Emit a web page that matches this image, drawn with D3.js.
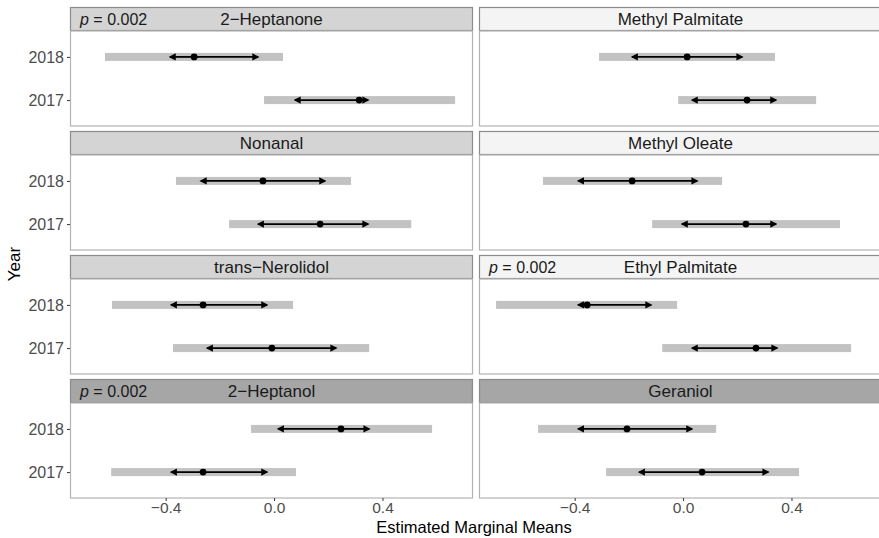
<!DOCTYPE html>
<html>
<head>
<meta charset="utf-8">
<script src="https://cdn.jsdelivr.net/npm/d3@7"></script>
<style>
  body { margin: 0; background: #fff; }
  svg { display: block; font-family: "Liberation Sans", Arial, sans-serif; }
</style>
</head>
<body>
<script>
// panel data: order = reading order (left col then right col per row)
const compounds = ["2\u2212Heptanone", "Methyl Palmitate", "Nonanal", "Methyl Oleate",
                   "trans\u2212Nerolidol", "Ethyl Palmitate", "2\u2212Heptanol", "Geraniol"];
const pLabels = ["0.002", "", "", "", "", "0.002", "0.002", ""];
const stripShade = ["mid", "light", "mid", "light", "mid", "light", "dark", "dark"];
const years = ["2018", "2017"];

// emmean, gray CI bar, comparison arrows  [2018, 2017]
const emmean   = [[-0.295, 0.314], [0.015, 0.236], [-0.041, 0.170], [-0.188, 0.232],
                  [-0.262, -0.008], [-0.354, 0.269], [0.247, -0.262], [-0.207, 0.070]];
const ciLow    = [[-0.624, -0.037], [-0.310, -0.018], [-0.362, -0.166], [-0.517, -0.114],
                  [-0.598, -0.373], [-0.690, -0.077], [-0.085, -0.601], [-0.535, -0.284]];
const ciHigh   = [[0.033, 0.668], [0.339, 0.491], [0.284, 0.506], [0.144, 0.579],
                  [0.070, 0.351], [-0.022, 0.620], [0.583, 0.081], [0.122, 0.428]];
const arrowLow = [[-0.384, 0.077], [-0.188, 0.033], [-0.270, -0.059], [-0.387, -0.004],
                  [-0.380, -0.247], [-0.387, 0.033], [0.015, -0.380], [-0.387, -0.162]];
const arrowHigh= [[-0.059, 0.347], [0.218, 0.343], [0.188, 0.347], [0.052, 0.343],
                  [-0.026, 0.229], [-0.118, 0.347], [0.351, -0.026], [0.033, 0.314]];
const xTicks = [-0.4, 0.0, 0.4];

const W = 879, H = 538;
const colX = [70, 479], panelW = 403;
const rowY = [7, 131, 255, 379], stripH = 23, plotH = 95;
const stripFill = { light: "#f4f4f4", mid: "#d4d4d4", dark: "#a6a6a6" };

const svg = d3.select("body").append("svg")
    .attr("width", W).attr("height", H);

svg.append("defs").append("marker")
    .attr("id", "head")
    .attr("viewBox", "0 0 10 10")
    .attr("refX", 8).attr("refY", 5)
    .attr("markerWidth", 4).attr("markerHeight", 4)
    .attr("orient", "auto-start-reverse")
    .append("path").attr("d", "M0,0 L10,5 L0,10 z").attr("fill", "#000");

const x = d3.scaleLinear().domain([-0.753, 0.734]).range([0, panelW]);
const y = d3.scalePoint().domain(years).range([0, plotH]).padding(0.6);

compounds.forEach((name, i) => {
  const col = i % 2, row = Math.floor(i / 2);
  const g = svg.append("g")
      .attr("transform", `translate(${colX[col]},${rowY[row]})`);

  // strip
  g.append("rect")
      .attr("x", 0.5).attr("y", 0.5).attr("width", panelW - 1).attr("height", stripH)
      .attr("fill", stripFill[stripShade[i]]).attr("stroke", "#8c8c8c").attr("stroke-width", 1.2);
  g.append("text")
      .attr("x", panelW / 2).attr("y", stripH / 2 + 6.5)
      .attr("text-anchor", "middle").attr("font-size", 17).attr("fill", "#1a1a1a")
      .text(name);
  if (pLabels[i]) {
    const t = g.append("text")
        .attr("x", 10).attr("y", stripH / 2 + 6)
        .attr("font-size", 16).attr("fill", "#1a1a1a");
    t.append("tspan").attr("font-style", "italic").text("p");
    t.append("tspan").text(" = " + pLabels[i]);
  }

  const p = g.append("g").attr("transform", `translate(0,${stripH + 1})`);
  p.append("rect")
      .attr("x", 0.5).attr("y", 0).attr("width", panelW - 1).attr("height", plotH)
      .attr("fill", "#fff").attr("stroke", "#b3b3b3").attr("stroke-width", 1.2);

  years.forEach((yr, j) => {
    const cy = y(yr);
    p.append("rect")
        .attr("x", x(ciLow[i][j])).attr("y", cy - 4)
        .attr("width", x(ciHigh[i][j]) - x(ciLow[i][j])).attr("height", 8)
        .attr("fill", "#c2c2c2");
    p.append("line")
        .attr("x1", x(emmean[i][j])).attr("x2", x(arrowLow[i][j]))
        .attr("y1", cy).attr("y2", cy)
        .attr("stroke", "#000").attr("stroke-width", 1.8)
        .attr("marker-end", "url(#head)");
    p.append("line")
        .attr("x1", x(emmean[i][j])).attr("x2", x(arrowHigh[i][j]))
        .attr("y1", cy).attr("y2", cy)
        .attr("stroke", "#000").attr("stroke-width", 1.8)
        .attr("marker-end", "url(#head)");
    p.append("circle")
        .attr("cx", x(emmean[i][j])).attr("cy", cy).attr("r", 3.4)
        .attr("fill", "#000");
  });

  // y axis on left column
  if (col === 0) {
    const ya = p.append("g").call(d3.axisLeft(y).tickSize(3).tickPadding(3));
    ya.select(".domain").remove();
    ya.selectAll("line").attr("stroke", "#333");
    ya.selectAll("text").attr("font-size", 16).attr("fill", "#4d4d4d")
        .attr("font-family", "Liberation Sans, Arial, sans-serif");
  }
  // x axis on bottom row
  if (row === 3) {
    const xa = p.append("g").attr("transform", `translate(0,${plotH})`)
        .call(d3.axisBottom(x).tickValues(xTicks).tickSize(3).tickPadding(1)
          .tickFormat(d => d3.format(".1f")(d).replace("-", "\u2212")));
    xa.select(".domain").remove();
    xa.selectAll("line").attr("stroke", "#333");
    xa.selectAll("text").attr("font-size", 15.5).attr("fill", "#4d4d4d")
        .attr("font-family", "Liberation Sans, Arial, sans-serif");
  }
});

svg.append("text")
    .attr("x", 474).attr("y", 533)
    .attr("text-anchor", "middle").attr("font-size", 16.5).attr("fill", "#000")
    .text("Estimated Marginal Means");
svg.append("text")
    .attr("transform", "translate(20,264) rotate(-90)")
    .attr("text-anchor", "middle").attr("font-size", 17).attr("fill", "#000")
    .text("Year");
</script>
</body>
</html>
